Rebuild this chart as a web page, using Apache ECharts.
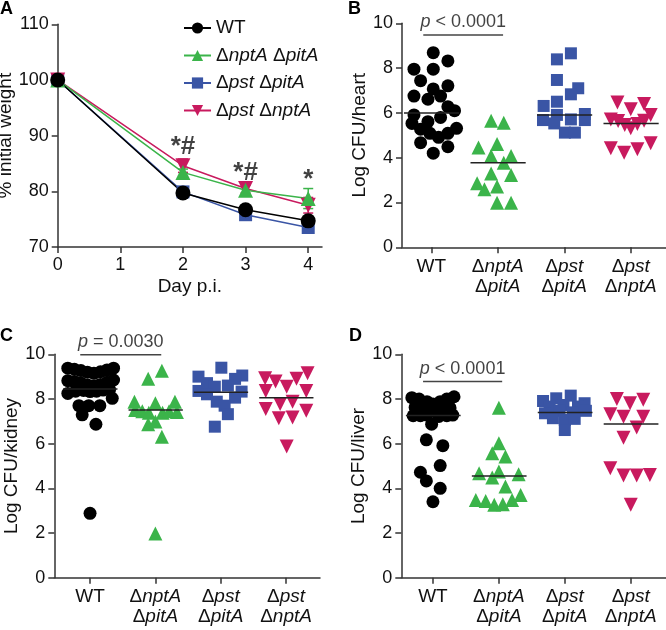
<!DOCTYPE html>
<html><head><meta charset="utf-8">
<script src="https://cdn.jsdelivr.net/npm/echarts@6/dist/echarts.min.js"></script>
<style>html,body{margin:0;padding:0;background:#fff}#c{width:666px;height:630px}</style>
</head><body><div id="c"></div>
<script>
// ---------- Panel A: weight ----------
const weightDays = [0, 2, 3, 4];
const wtWeight = [100, 79.7, 76.7, 74.7];
const npWeight = [100, 83.4, 80.2, 78.7];
const ppWeight = [100, 79.9, 75.8, 73.5];
const pnWeight = [100, 84.6, 80.5, 77.5];
const wtErr = [0.4, 0.5, 0.5, 0.6];
const npErr = [0.4, 0.6, 0.9, 1.8];
const ppErr = [0.4, 0.5, 0.6, 0.5];
const pnErr = [0.4, 1.2, 0.8, 1.4];
const annotDays = [2, 3, 4];
const annotY = [88.0, 83.4, 82.0];
const annotText = ['*#', '*#', '*'];
const dayTicks = [0, 1, 2, 3, 4];

// ---------- Panel B: heart ----------
const heartWT = [8.69,8.32,7.95,7.95,7.44,7.21,7.07,6.75,6.61,6.75,6.28,6.10,5.91,5.80,5.53,5.61,5.27,5.31,5.09,4.91,5.09,4.67,4.49,4.20];
const heartWTJit = [0.03,0.25,-0.26,0.03,-0.16,0.25,0.03,-0.26,-0.05,0.14,0.25,0.35,-0.26,0.14,-0.29,-0.05,-0.16,0.38,-0.02,0.11,0.25,-0.16,0.25,0.03];
const heartNP = [5.65,5.56,4.46,4.61,4.08,4.08,3.78,3.30,3.23,2.86,2.59,2.71,1.99,1.99];
const heartNPJit = [-0.10,0.09,-0.29,-0.01,-0.10,0.20,0.09,-0.10,0.20,-0.31,-0.20,-0.01,-0.01,0.20];
const heartPP = [8.66,8.39,7.47,7.10,6.83,6.50,6.31,5.91,5.95,5.68,5.71,5.68,5.53,5.12,5.12];
const heartPPJit = [0.10,-0.11,-0.11,0.21,0.10,-0.11,-0.31,-0.11,0.31,-0.32,0.10,0.31,-0.15,0.01,0.16];
const heartPN = [6.46,6.16,6.40,5.71,5.64,5.46,5.31,5.50,5.65,5.91,4.42,4.22,4.38,4.64];
const heartPNJit = [-0.20,0.00,0.20,-0.30,-0.19,-0.09,0.00,0.10,0.20,0.30,-0.30,-0.10,0.10,0.30];
const heartMedian = [6.0, 3.78, 5.91, 5.53];
const heartBracketX = [-0.12, 1.08];
const heartBracketY = 9.48;
const heartP = 'p < 0.0001';

// ---------- Panel C: kidney ----------
const kidneyWT = [9.38,9.33,9.27,9.2,9.15,9.22,9.3,9.38, 8.82,8.78,8.72,8.63,8.58,8.65,8.75,8.85, 8.25,8.35,8.38,8.33,8.35,8.4,8.42, 8.03, 7.70,7.70,7.70, 7.29, 6.87, 2.88];
const kidneyWTJit = [-0.34,-0.24,-0.14,-0.04,0.06,0.16,0.26,0.36, -0.34,-0.24,-0.14,-0.04,0.06,0.16,0.26,0.36, -0.34,-0.22,-0.1,0.0,0.1,0.2,0.3, 0.34, -0.17,-0.02,0.15, -0.12, 0.09, 0.0];
const kidneyNP = [9.26,8.90,7.88,7.81,7.88,7.51,7.45,7.38,7.38,7.45,7.42,6.87,6.99,6.31,1.98];
const kidneyNPJit = [0.10,-0.11,-0.32,0.0,0.30,-0.31,-0.20,-0.10,0.11,0.21,0.33,-0.11,0.0,0.10,0.0];
const kidneyPP = [9.40,9.00,9.05,8.90,8.71,8.55,8.60,8.36,8.33,8.21,8.06,7.88,7.70,7.32,6.76];
const kidneyPPJit = [0.01,-0.34,0.33,0.22,-0.21,-0.09,0.11,-0.34,0.32,-0.21,0.22,-0.06,0.06,0.11,-0.09];
const kidneyPN = [9.15,8.93,8.78,8.90,8.55,8.36,8.36,7.77,7.88,7.55,7.47,7.14,7.17,5.87];
const kidneyPNJit = [0.33,-0.32,-0.16,0.16,0.01,-0.31,0.31,-0.09,0.10,-0.31,0.31,-0.11,0.10,0.01];
const kidneyMedian = [8.45, 7.51, 8.30, 8.06];
const kidneyBracketX = [-0.15, 1.09];
const kidneyBracketY = 9.98;
const kidneyP = 'p = 0.0030';

// ---------- Panel D: liver ----------
const liverWT = [8.06,8.00,7.88,7.77,7.88,8.0,8.1, 7.62,7.58,7.58,7.62,7.6, 7.25,7.25,7.28,7.22,7.25,7.28, 6.87,6.17,5.91,5.02,4.72,4.33,4.00,3.40];
const liverWTJit = [-0.32,-0.21,-0.09,0.0,0.11,0.21,0.32, -0.27,-0.15,-0.02,0.13,0.26, -0.30,-0.19,-0.09,0.09,0.21,0.30, -0.02,-0.10,0.15,0.11,-0.19,-0.10,0.11,0.0];
const liverNP = [7.61,6.02,5.57,5.42,4.68,4.48,4.75,4.63,4.08,3.48,3.43,3.26,3.29,3.48,3.70];
const liverNPJit = [0.0,0.0,-0.10,0.10,-0.30,-0.10,0.0,0.30,0.10,-0.35,-0.20,-0.07,0.06,0.20,0.33];
const liverPP = [7.91,8.03,8.15,7.81,7.66,7.73,7.66,7.36,7.47,7.40,7.47,7.14,7.06,7.11,6.61];
const liverPPJit = [-0.33,-0.13,0.09,0.30,-0.23,-0.02,0.20,-0.30,-0.08,0.12,0.32,-0.18,0.0,0.15,0.0];
const liverPN = [8.00,7.81,7.96,7.32,7.21,7.21,6.72,6.27,4.90,4.57,4.57,4.60,3.26];
const liverPNJit = [-0.21,-0.01,0.19,-0.31,-0.11,0.19,0.09,-0.11,-0.31,-0.11,0.09,0.29,0.0];
const liverMedian = [7.26, 4.55, 7.39, 6.88];
const liverBracketX = [-0.15, 1.05];
const liverBracketY = 8.78;
const liverP = 'p < 0.0001';

const groupNames = ['WT', 'ΔnptA ΔpitA', 'Δpst ΔpitA', 'Δpst ΔnptA'];
const catLabels = ['WT', 'Δ{i|nptA}\nΔ{i|pitA}', 'Δ{i|pst}\nΔ{i|pitA}', 'Δ{i|pst}\nΔ{i|nptA}'];
const legendLabels = {'WT':'WT','ΔnptA ΔpitA':'Δ{i|nptA} Δ{i|pitA}','Δpst ΔpitA':'Δ{i|pst} Δ{i|pitA}','Δpst ΔnptA':'Δ{i|pst} Δ{i|nptA}'};

// ---------- styling ----------
const FONT = "'Liberation Sans', Arial, sans-serif";
const COLORS = ['#000000', '#3bb44a', '#3a55a5', '#c81a5e'];
const SYMBOLS = ['circle', 'triangle', 'rect', 'triangle'];
const ROT = [0, 0, 0, 180];
const SIZES = [13, 14, 12, 14];
const AX = '#333';

const chart = echarts.init(document.getElementById('c'));

const grids = [
  {left: 57.7, top: 24.3, width: 264.3, height: 222.7},
  {left: 402, top: 23.3, width: 264, height: 224},
  {left: 54.3, top: 354.3, width: 265.7, height: 223.4},
  {left: 401.3, top: 354.3, width: 264.7, height: 223.4}
].map(g => Object.assign({outerBoundsMode: 'none', containLabel: false}, g));

const axisLine = {onZero: false, lineStyle: {color: AX, width: 1.5}};
const axisTick = {length: 6, lineStyle: {color: AX, width: 1.5}};
const tickFont = {fontSize: 18, color: '#111', fontFamily: FONT, margin: 9};
const nameFont = {fontSize: 19, color: '#111', fontFamily: FONT};
const richI = {i: {fontStyle: 'italic', fontSize: 19, fontFamily: FONT, color: '#111', lineHeight: 20}};

function catXAxis(gi, min, max) {
  return {
    type: 'value', gridIndex: gi, min: min, max: max,
    axisLine, splitLine: {show: false},
    axisTick: Object.assign({customValues: [0, 1, 2, 3]}, axisTick),
    axisLabel: {customValues: [0, 1, 2, 3], fontSize: 19, lineHeight: 20, color: '#111', fontFamily: FONT, margin: 9,
      formatter: v => catLabels[Math.round(v)] || '', rich: richI}
  };
}
function logYAxis(gi, name) {
  return {type: 'value', gridIndex: gi, min: 0, max: 10, interval: 2, name: name, nameLocation: 'middle', nameGap: 28,
    nameTextStyle: nameFont, axisLine: Object.assign({show: true}, axisLine), axisTick: Object.assign({show: true}, axisTick), splitLine: {show: false},
    axisLabel: tickFont};
}

const xAxes = [
  {type: 'value', gridIndex: 0, min: 0, max: 4.22, name: 'Day p.i.', nameLocation: 'middle', nameGap: 30, nameTextStyle: nameFont,
    axisLine, splitLine: {show: false},
    axisTick: Object.assign({customValues: dayTicks}, axisTick),
    axisLabel: Object.assign({customValues: dayTicks}, tickFont, {margin: 9})},
  catXAxis(1, -0.44, 3.53),
  catXAxis(2, -0.547, 3.52),
  catXAxis(3, -0.48, 3.535)
];
const yAxes = [
  {type: 'value', gridIndex: 0, min: 70, max: 110, interval: 10, name: '% initial weight', nameLocation: 'middle', nameGap: 38,
    nameTextStyle: nameFont, axisLine: Object.assign({show: true}, axisLine), axisTick: Object.assign({show: true}, axisTick),
    splitLine: {show: false}, axisLabel: tickFont},
  logYAxis(1, 'Log CFU/heart'),
  logYAxis(2, 'Log CFU/kidney'),
  logYAxis(3, 'Log CFU/liver')
];

const series = [];

// Panel A lines (draw order: blue, red, green, black)
const weightSets = [wtWeight, npWeight, ppWeight, pnWeight];
const errSets = [wtErr, npErr, ppErr, pnErr];
function errSeries(gi) {
  return {type: 'custom', xAxisIndex: 0, yAxisIndex: 0, silent: true, z: 2,
    data: weightDays.map((d, i) => [d, weightSets[gi][i] - errSets[gi][i], weightSets[gi][i] + errSets[gi][i]]),
    renderItem(params, api) {
      const x = api.value(0);
      const lo = api.coord([x, api.value(1)]);
      const hi = api.coord([x, api.value(2)]);
      const w = 5;
      const st = {stroke: COLORS[gi], lineWidth: 1.5};
      return {type: 'group', children: [
        {type: 'line', shape: {x1: lo[0], y1: lo[1], x2: hi[0], y2: hi[1]}, style: st},
        {type: 'line', shape: {x1: lo[0] - w, y1: lo[1], x2: lo[0] + w, y2: lo[1]}, style: st},
        {type: 'line', shape: {x1: hi[0] - w, y1: hi[1], x2: hi[0] + w, y2: hi[1]}, style: st}
      ]};
    }};
}
[2, 3, 1, 0].forEach(gi => {
  series.push(errSeries(gi));
  series.push({
    name: groupNames[gi], type: 'line', xAxisIndex: 0, yAxisIndex: 0, z: 3,
    data: weightDays.map((d, i) => [d, weightSets[gi][i]]),
    symbol: SYMBOLS[gi], symbolRotate: ROT[gi], symbolSize: gi === 2 ? 13 : 15,
    itemStyle: {color: COLORS[gi]}, lineStyle: {color: COLORS[gi], width: 1.5}
  });
});
series.push({
  type: 'scatter', xAxisIndex: 0, yAxisIndex: 0, symbolSize: 1, itemStyle: {color: 'rgba(0,0,0,0)'}, silent: true, clip: false,
  data: annotDays.map((d, i) => ({value: [d, annotY[i]], label: {formatter: annotText[i]}})),
  label: {show: true, position: 'inside', fontSize: 26, fontWeight: 'bold', color: '#111', fontFamily: FONT}
});

// Panels B-D
const panels = [
  {gi: 1, sets: [heartWT, heartNP, heartPP, heartPN], jit: [heartWTJit, heartNPJit, heartPPJit, heartPNJit], med: heartMedian, bx: heartBracketX, by: heartBracketY, p: heartP},
  {gi: 2, sets: [kidneyWT, kidneyNP, kidneyPP, kidneyPN], jit: [kidneyWTJit, kidneyNPJit, kidneyPPJit, kidneyPNJit], med: kidneyMedian, bx: kidneyBracketX, by: kidneyBracketY, p: kidneyP},
  {gi: 3, sets: [liverWT, liverNP, liverPP, liverPN], jit: [liverWTJit, liverNPJit, liverPPJit, liverPNJit], med: liverMedian, bx: liverBracketX, by: liverBracketY, p: liverP}
];
panels.forEach(P => {
  P.sets.forEach((vals, g) => {
    series.push({
      type: 'scatter', xAxisIndex: P.gi, yAxisIndex: P.gi, z: 3,
      symbol: SYMBOLS[g], symbolRotate: ROT[g], symbolSize: SIZES[g],
      itemStyle: {color: COLORS[g], opacity: 1},
      data: vals.map((v, i) => [g + P.jit[g][i], v])
    });
  });
  series.push({
    type: 'custom', xAxisIndex: P.gi, yAxisIndex: P.gi, z: 5, silent: true,
    data: P.med.map((m, i) => [i, m]),
    renderItem(params, api) {
      const a = api.coord([api.value(0) - 0.41, api.value(1)]);
      const b = api.coord([api.value(0) + 0.42, api.value(1)]);
      return {type: 'line', shape: {x1: a[0], y1: a[1], x2: b[0], y2: b[1]}, style: {stroke: '#222', lineWidth: 1.5}};
    }
  });
  series.push({
    type: 'line', xAxisIndex: P.gi, yAxisIndex: P.gi, symbol: 'none', silent: true, clip: false,
    lineStyle: {color: '#444', width: 1.5},
    data: [[P.bx[0], P.by], [P.bx[1], P.by]]
  });
  const mid = (P.bx[0] + P.bx[1]) / 2;
  series.push({
    type: 'scatter', xAxisIndex: P.gi, yAxisIndex: P.gi, symbolSize: 1, itemStyle: {color: 'rgba(0,0,0,0)'}, silent: true, clip: false,
    data: [{value: [mid, P.by], label: {formatter: '{i|p}' + P.p.slice(1)}}],
    label: {show: true, position: 'top', distance: 3, fontSize: 18, color: '#111', fontFamily: FONT,
      rich: {i: {fontStyle: 'italic', fontSize: 18, fontFamily: FONT, color: '#111'}}}
  });
});

const titleStyle = {fontSize: 18, fontWeight: 'bold', color: '#000', fontFamily: FONT};
chart.setOption({
  animation: false,
  backgroundColor: '#fff',
  title: [
    {text: 'A', left: 0, top: 0, padding: 0, textStyle: titleStyle},
    {text: 'B', left: 348, top: 0, padding: 0, textStyle: titleStyle},
    {text: 'C', left: 0, top: 327, padding: 0, textStyle: titleStyle},
    {text: 'D', left: 349, top: 327, padding: 0, textStyle: titleStyle}
  ],
  legend: {
    left: 183, top: 18, padding: 0, orient: 'vertical', itemWidth: 27, itemHeight: 14, itemGap: 7.5,
    data: groupNames,
    formatter: n => legendLabels[n],
    textStyle: {fontSize: 19, lineHeight: 20, color: '#111', fontFamily: FONT, rich: richI}
  },
  grid: grids,
  xAxis: xAxes,
  yAxis: yAxes,
  series: series
});
</script>
</body></html>
